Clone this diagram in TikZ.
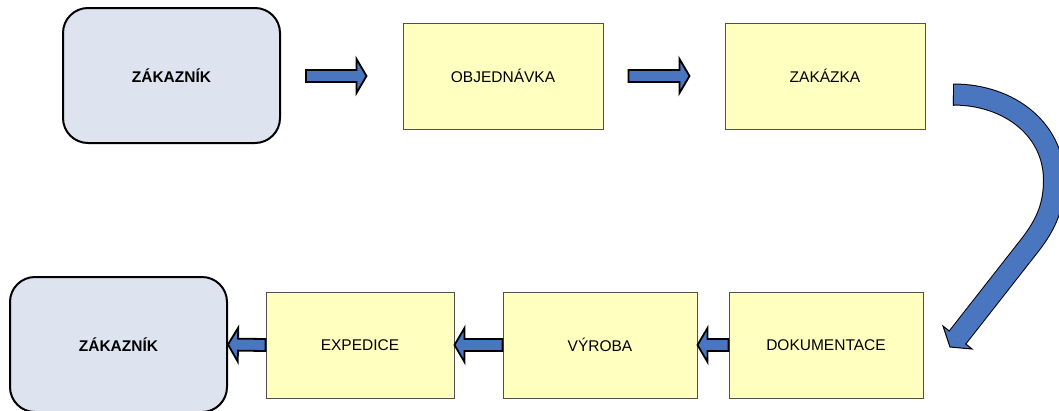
\documentclass[tikz,border=0pt]{standalone}
\usepackage{fontspec}
\setmainfont{Liberation Sans}
\usetikzlibrary{calc}
\definecolor{arrowblue}{HTML}{4A76C0}
\definecolor{boxyellow}{HTML}{FFFFC0}
\definecolor{custblue}{HTML}{DDE4F0}
\definecolor{boxedge}{HTML}{505050}
\begin{document}
\begin{tikzpicture}[x=1pt,y=-1pt,
  custbox/.style={draw=black, line width=2, fill=custblue, rounded corners=25,
    minimum width=217, minimum height=135, inner sep=0,
    font=\fontsize{15.5}{18}\selectfont\bfseries},
  stepbox/.style={draw=boxedge, line width=1, fill=boxyellow,
    minimum height=106, inner sep=0, font=\fontsize{15.5}{18}\selectfont},
  blockarrow/.style={draw=black, line width=1.8, fill=arrowblue, line join=miter,
    to path={let \p1=(\tikztostart), \p2=(\tikztotarget),
      \n1={veclen(\x2-\x1,\y2-\y1)}, \n2={atan2(\y2-\y1,\x2-\x1)} in
      ([shift={(\p1)},rotate=\n2]0,6) -- ([shift={(\p1)},rotate=\n2]\n1-10,6)
      -- ([shift={(\p1)},rotate=\n2]\n1-10,17) -- ([shift={(\p1)},rotate=\n2]\n1,0)
      -- ([shift={(\p1)},rotate=\n2]\n1-10,-17) -- ([shift={(\p1)},rotate=\n2]\n1-10,-6)
      -- ([shift={(\p1)},rotate=\n2]0,-6) -- cycle}},
  curveshaft/.style={draw=black, line width=1, double=arrowblue, double distance=20},
  curvehead/.style={draw=black, line width=1, fill=arrowblue, line join=miter}
]
\useasboundingbox (0,0) rectangle (1059,410);
\clip (0,0) rectangle (1059,410);

% top row
\node[custbox] (z1) at (171.5,75.5) {ZÁKAZNÍK};
\node[stepbox, minimum width=200] (obj) at (503,76) {OBJEDNÁVKA};
\node[stepbox, minimum width=200] (zak) at (825,76) {ZAKÁZKA};

% bottom row
\node[custbox] (z2) at (118.5,344.5) {ZÁKAZNÍK};
\node[stepbox, minimum width=188] (exp) at (360,345) {EXPEDICE};
\node[stepbox, minimum width=194] (vyr) at (600,345) {VÝROBA};
\node[stepbox, minimum width=194] (dok) at (826,345) {DOKUMENTACE};

% top arrows
\coordinate (a1s) at ($(z1.east)+(25,0.5)$);
\coordinate (a1e) at ($(obj.west)+(-36,0)$);
\coordinate (a2s) at ($(obj.east)+(25,0)$);
\coordinate (a2e) at ($(zak.west)+(-35,0)$);
\draw[blockarrow] (a1s) to (a1e);
\draw[blockarrow] (a2s) to (a2e);

% bottom arrows
\draw[blockarrow] (dok.west) to (vyr.east);
\draw[blockarrow] (vyr.west) to (exp.east);
\draw[blockarrow] (exp.west) to (z2.east);

% curved arrow from ZAKAZKA to DOKUMENTACE
\coordinate (cs) at (953,94.5);
\coordinate (c1) at (1054,180);
\coordinate (c2) at (1030,245);
\coordinate (ce) at (957.5,337.5);
\draw[curveshaft] (cs) .. controls (1010,94.5) and (1054,130) .. (c1)
  .. controls (1054,205) and (1047,223) .. (c2) -- (ce);
\draw[line width=1] (953,83.5) -- (953,105.5);
\draw[curvehead] (949.6,331.3) -- (943,326) -- (950,347) -- (972,349) -- (965.4,343.7);
\end{tikzpicture}
\end{document}
